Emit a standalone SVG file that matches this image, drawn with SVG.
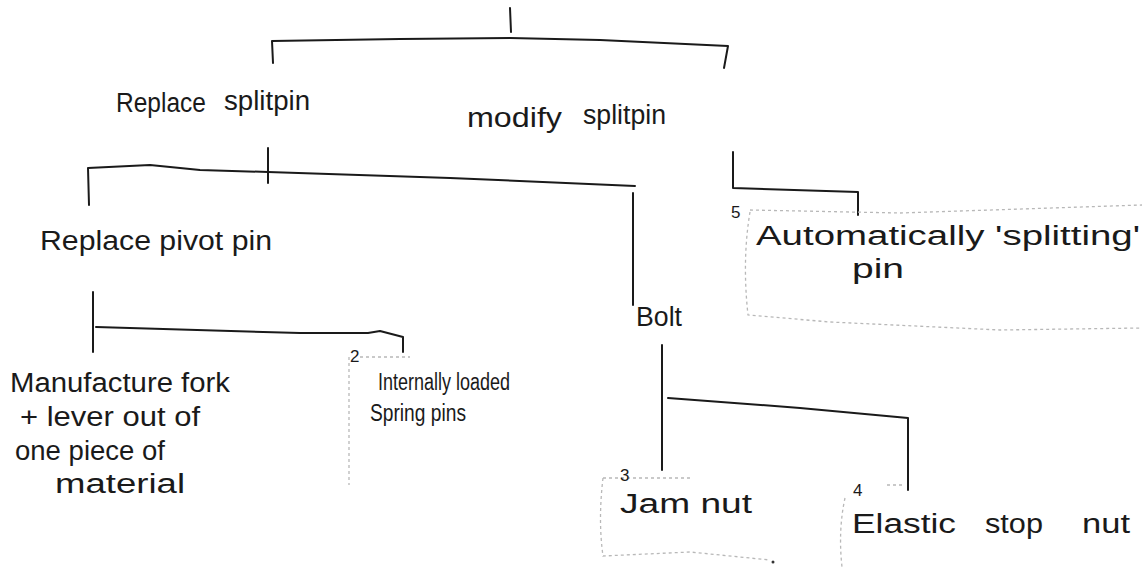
<svg xmlns="http://www.w3.org/2000/svg" width="1142" height="567" viewBox="0 0 1142 567">
<style>
.t{font-family:"Liberation Sans","DejaVu Sans",sans-serif;font-size:27px;fill:#1a1a1a}
.s{font-family:"Liberation Sans","DejaVu Sans",sans-serif;font-size:23px;fill:#1a1a1a}
.n{font-family:"Liberation Sans","DejaVu Sans",sans-serif;font-size:17px;fill:#1a1a1a}
.c{fill:none;stroke:#1a1a1a;stroke-width:2;stroke-linecap:round;stroke-linejoin:round}
.f{fill:none;stroke:#b8b8b8;stroke-width:1.3;stroke-dasharray:3 3}
</style>
<rect width="1142" height="567" fill="#ffffff"/>
<g id="connectors">
<path class="c" d="M510,8 L511,32"/>
<path class="c" d="M273,63 L272,41 L400,39 L510,38 L600,40 L728,46 L724,68"/>
<path class="c" d="M268,148 L268,183"/>
<path class="c" d="M89,205 L88,168 L150,165 L200,170 L268,172 L450,178 L635,186"/>
<path class="c" d="M633,193 L633,305"/>
<path class="c" d="M93,292 L93,352"/>
<path class="c" d="M96,327 L300,333 L368,333 L380,331 L403,337 L403,352"/>
<path class="c" d="M662,345 L662,470"/>
<path class="c" d="M668,398 L800,408 L908,418 L908,490"/>
<path class="c" d="M733,152 L733,188 L858,192 L858,215"/>
</g>
<g id="node-root-brackets">
<path class="f" d="M360,357 L410,357"/>
<path class="f" d="M349,357 L349,485"/>
<path class="f" d="M603,478 L690,478"/>
<path class="f" d="M603,478 Q598,520 603,556 L690,552 L770,560"/>
<circle cx="773" cy="562" r="1.5" fill="#333"/>
<path class="f" d="M887,485 L905,485"/>
<path class="f" d="M845,498 Q838,530 842,567"/>
<path class="f" d="M750,212 Q742,260 748,315 L830,322 L1000,330 L1142,328"/>
<path class="f" d="M750,210 L900,213 L1142,205"/>
</g>
<g id="node-replace-splitpin">
<text class="t" x="116" y="112" textLength="90" lengthAdjust="spacingAndGlyphs">Replace</text>
<text class="t" x="224" y="110" textLength="86" lengthAdjust="spacingAndGlyphs">splitpin</text>
</g>
<g id="node-modify-splitpin">
<text class="t" x="467" y="127" textLength="95" lengthAdjust="spacingAndGlyphs">modify</text>
<text class="t" x="583" y="124" textLength="83" lengthAdjust="spacingAndGlyphs">splitpin</text>
</g>
<g id="node-replace-pivot-pin">
<text class="t" x="40" y="250" textLength="232" lengthAdjust="spacingAndGlyphs">Replace pivot pin</text>
</g>
<g id="node-bolt">
<text class="t" x="636" y="326" textLength="46" lengthAdjust="spacingAndGlyphs">Bolt</text>
</g>
<g id="node-manufacture">
<text class="t" x="10" y="392" textLength="220" lengthAdjust="spacingAndGlyphs">Manufacture fork</text>
<text class="t" x="20" y="426" textLength="180" lengthAdjust="spacingAndGlyphs">+ lever out of</text>
<text class="t" x="15" y="460" textLength="150" lengthAdjust="spacingAndGlyphs">one piece of</text>
<text class="t" x="55" y="493" textLength="130" lengthAdjust="spacingAndGlyphs">material</text>
</g>
<g id="node-spring-pins">
<text class="n" x="350" y="362">2</text>
<text class="s" x="378" y="390" textLength="132" lengthAdjust="spacingAndGlyphs">Internally loaded</text>
<text class="s" x="370" y="421" textLength="96" lengthAdjust="spacingAndGlyphs">Spring pins</text>
</g>
<g id="node-jam-nut">
<text class="n" x="620" y="481">3</text>
<text class="t" x="620" y="513" textLength="132" lengthAdjust="spacingAndGlyphs">Jam nut</text>
</g>
<g id="node-elastic-stop-nut">
<text class="n" x="853" y="496">4</text>
<text class="t" x="852" y="533" textLength="104" lengthAdjust="spacingAndGlyphs">Elastic</text>
<text class="t" x="985" y="533" textLength="58" lengthAdjust="spacingAndGlyphs">stop</text>
<text class="t" x="1082" y="533" textLength="48" lengthAdjust="spacingAndGlyphs">nut</text>
</g>
<g id="node-auto-splitting-pin">
<text class="n" x="731" y="218">5</text>
<text class="t" x="756" y="245" textLength="384" lengthAdjust="spacingAndGlyphs">Automatically 'splitting'</text>
<text class="t" x="852" y="278" textLength="52" lengthAdjust="spacingAndGlyphs">pin</text>
</g>
</svg>
